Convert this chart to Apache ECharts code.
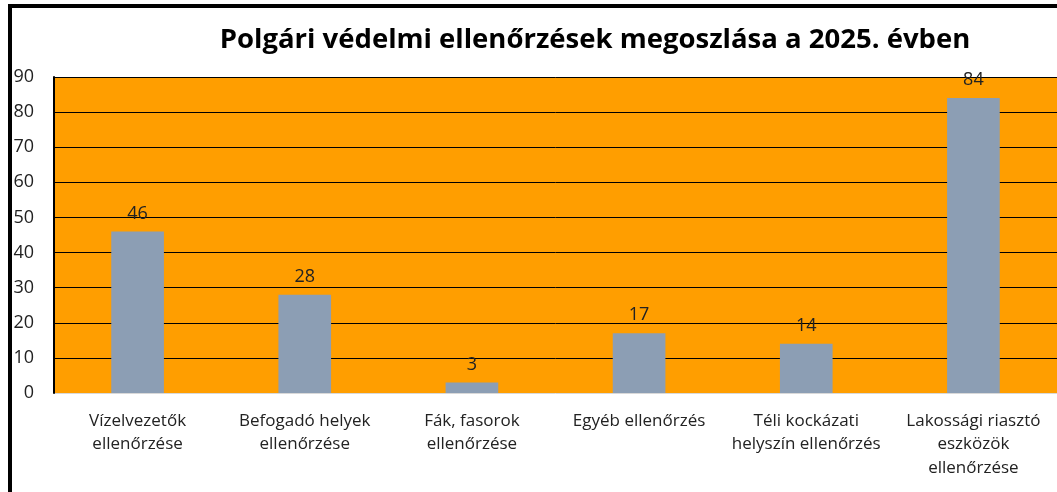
<!DOCTYPE html>
<html>
<head>
<meta charset="utf-8">
<script src="https://cdn.jsdelivr.net/npm/echarts@6/dist/echarts.min.js"></script>
<style>
  html, body { margin: 0; padding: 0; background: #fff; }
  #chart { width: 1057px; height: 492px; }
</style>
</head>
<body>
<div id="chart"></div>
<script>
// adatok
const categories = [
  'Vízelvezetők\nellenőrzése',
  'Befogadó helyek\nellenőrzése',
  'Fák, fasorok\nellenőrzése',
  'Egyéb ellenőrzés',
  'Téli kockázati\nhelyszín ellenőrzés',
  'Lakossági riasztó\neszközök\nellenőrzése'
];
const values = [46, 28, 3, 17, 14, 84];
const yTicks = [0, 10, 20, 30, 40, 50, 60, 70, 80, 90];

const chart = echarts.init(document.getElementById('chart'));
const font = '"Open Sans", "Noto Sans", sans-serif';

// 0-s vonal halvány, a többi fekete
const gridColors = yTicks.map((t, i) => i === 0 ? '#d9d9d9' : '#000');

const option = {
  backgroundColor: '#fff',
  animation: false,
  title: {
    text: 'Polgári védelmi ellenőrzések megoszlása a 2025. évben',
    left: 590,
    top: 21,
    textAlign: 'center',
    textStyle: { fontFamily: font, fontWeight: 'bold', fontSize: 27.5, color: '#000' }
  },
  grid: {
    left: 54, top: 77, width: 1008, height: 316,
    show: true, backgroundColor: '#FF9E00', borderWidth: 0
  },
  xAxis: {
    type: 'category',
    data: categories,
    axisLine: { show: false },
    axisTick: { show: false },
    axisLabel: {
      fontFamily: font, fontSize: 17, color: '#222', lineHeight: 23.5,
      margin: 16, interval: 0
    }
  },
  yAxis: {
    type: 'value',
    min: 0, max: 90, interval: 10,
    axisLine: { show: true, lineStyle: { color: '#000', width: 2 } },
    axisTick: { show: false },
    axisLabel: { fontFamily: font, fontSize: 18, color: '#222', margin: 20 },
    splitLine: { show: true, lineStyle: { color: gridColors, width: 1 } }
  },
  series: [{
    type: 'bar',
    data: values,
    barWidth: '31.5%',
    itemStyle: { color: '#8C9EB4' },
    label: {
      show: true, position: 'top', distance: 9,
      fontFamily: font, fontSize: 18, color: '#222'
    }
  }],
  graphic: [{
    type: 'polyline',
    shape: { points: [[10, 500], [10, 6], [1070, 6]] },
    style: { stroke: '#000', lineWidth: 4, fill: null },
    z: 100
  }]
};
chart.setOption(option);
</script>
</body>
</html>
